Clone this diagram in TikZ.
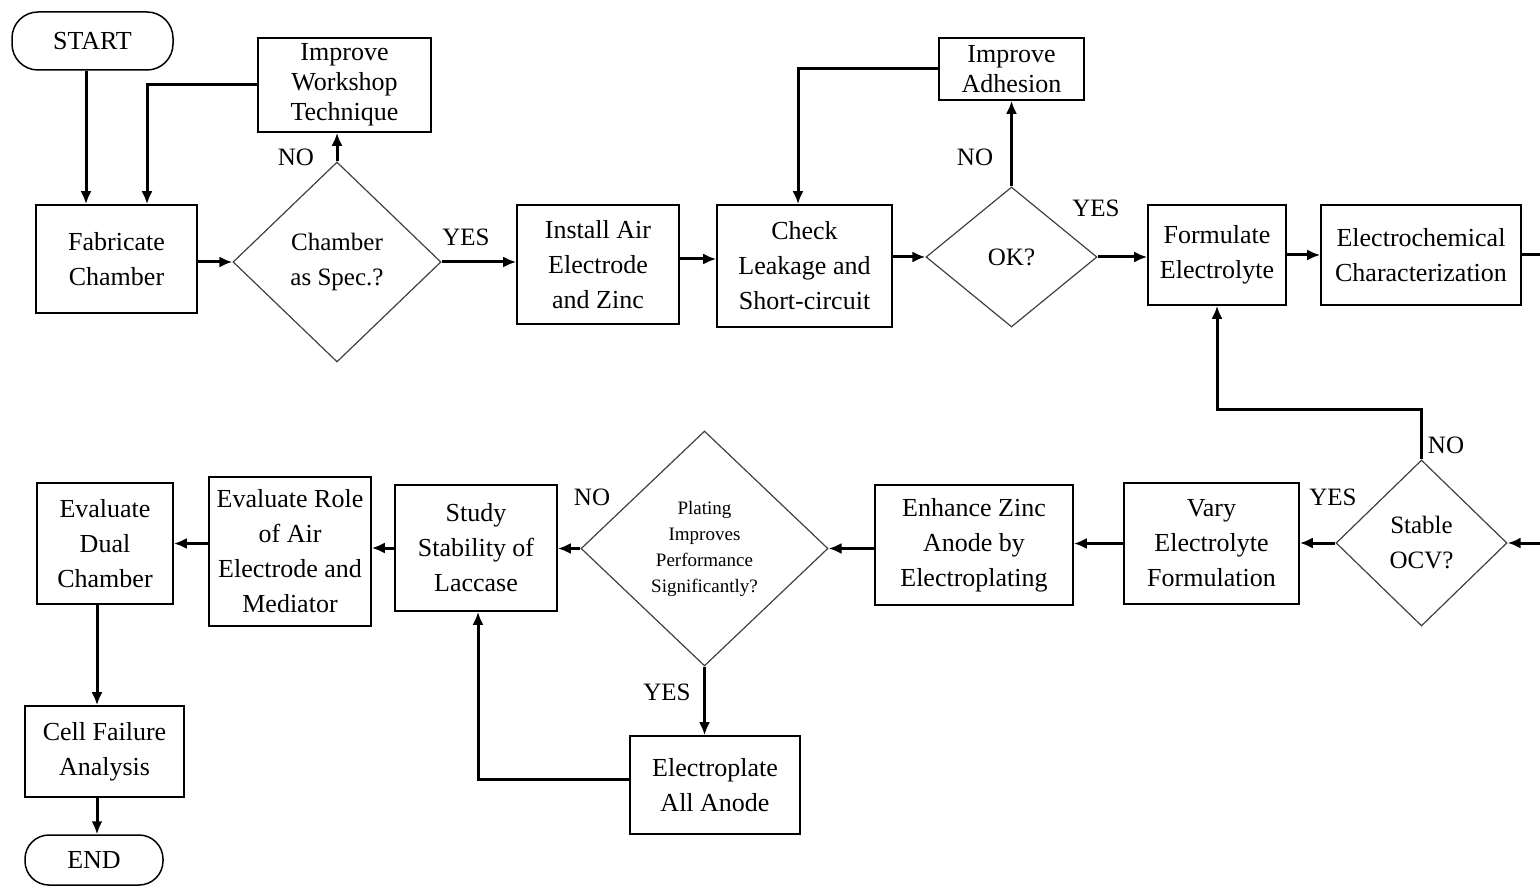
\documentclass[tikz,border=0pt]{standalone}
\usepackage{fontspec}
\setmainfont{Liberation Serif}
\usetikzlibrary{arrows.meta,shapes.geometric}
\tikzset{
  box/.style={draw, line width=0.8pt, inner sep=0pt, align=center, font=\fontsize{13}{17.5}\selectfont},
  term/.style={draw, line width=0.75pt, rounded corners=13pt, inner sep=0pt, align=center, font=\fontsize{13}{17.5}\selectfont},
  dia/.style={draw=black!75, line width=0.6pt, diamond, inner sep=0pt, align=center, font=\fontsize{12.5}{17.5}\selectfont},
  arr/.style={line width=1.5pt, -{Latex[length=6.5pt,width=5.5pt]}},
  plain/.style={line width=1.5pt},
  lbl/.style={font=\fontsize{12.5}{15}\selectfont, inner sep=0pt}
}
\begin{document}
\begin{tikzpicture}[x=0.5pt,y=-0.5pt]
\useasboundingbox (0,0) rectangle (1540,887);
% nodes
\node[term, minimum width=80.5pt, minimum height=29pt] (start) at (92.5,41) {START};
\node[box, minimum width=80.5pt, minimum height=54pt] (fab) at (116.5,259) {Fabricate\\Chamber};
\node[dia, minimum width=104pt, minimum height=100pt] (spec) at (337,262) {Chamber\\as Spec.?};
\node[box, minimum width=86.5pt, minimum height=47pt, font=\fontsize{13}{15}\selectfont] (iwt) at (344.5,85) {Improve\\Workshop\\Technique};
\node[box, minimum width=81pt, minimum height=59.5pt] (inst) at (598,264.5) {Install Air\\Electrode\\and Zinc};
\node[box, minimum width=87.5pt, minimum height=61pt] (chk) at (804.5,266) {Check\\Leakage and\\Short-circuit};
\node[dia, minimum width=85.5pt, minimum height=70pt] (ok) at (1011.5,257) {OK?};
\node[box, minimum width=72.5pt, minimum height=31pt, font=\fontsize{13}{15}\selectfont] (ia) at (1011.5,69) {Improve\\Adhesion};
\node[box, minimum width=69pt, minimum height=50pt] (form) at (1217,255) {Formulate\\Electrolyte};
\node[box, minimum width=100pt, minimum height=50pt] (elec) at (1421,255) {Electrochemical\\Characterization};
\node[dia, minimum width=85.5pt, minimum height=83pt] (ocv) at (1421.5,543) {Stable\\OCV?};
\node[box, minimum width=87.5pt, minimum height=60.5pt] (vary) at (1211.5,543.5) {Vary\\Electrolyte\\Formulation};
\node[box, minimum width=99pt, minimum height=60pt] (enh) at (974,545) {Enhance Zinc\\Anode by\\Electroplating};
\node[dia, minimum width=123.5pt, minimum height=117.5pt, font=\fontsize{9.5}{13}\selectfont] (plat) at (704.5,548.5) {Plating\\Improves\\Performance\\Significantly?};
\node[box, minimum width=81pt, minimum height=63pt] (study) at (476,548) {Study\\Stability of\\Laccase};
\node[box, minimum width=81pt, minimum height=74.5pt] (role) at (290,551.5) {Evaluate Role\\of Air\\Electrode and\\Mediator};
\node[box, minimum width=68pt, minimum height=60.5pt] (dual) at (105,543.5) {Evaluate\\Dual\\Chamber};
\node[box, minimum width=79.5pt, minimum height=45.5pt] (cfa) at (104.5,751.5) {Cell Failure\\Analysis};
\node[box, minimum width=85pt, minimum height=49pt] (ep) at (715,785) {Electroplate\\All Anode};
\node[term, minimum width=69pt, minimum height=25pt, rounded corners=12pt] (end) at (94,860) {END};
\coordinate (r1) at (1540,255);
\coordinate (r2) at (1540,543);
% connectors
\draw[arr] ([xshift=-3.25pt]start.south) -- ([xshift=-3.25pt]start.south |- fab.north);
\draw[arr] (iwt.west) -| ([xshift=15.25pt]fab.north);
\draw[arr] (fab.east |- spec.west) -- (spec.west);
\draw[arr] (spec.north) -- (spec.north |- iwt.south);
\draw[arr] (spec.east) -- (spec.east -| inst.west);
\draw[arr] ([yshift=2.75pt]inst.east) -- ([yshift=2.75pt]inst.east -| chk.west);
\draw[arr] (chk.east |- ok.west) -- (ok.west);
\draw[arr] (ok.north) -- (ok.north |- ia.south);
\draw[arr] (ia.west) -| ([xshift=-3.25pt]chk.north);
\draw[arr] (ok.east) -- (ok.east -| form.west);
\draw[arr] (form.east) -- (elec.west);
\draw[plain] (elec.east) -- (r1);
\draw[arr] (r2) -- (ocv.east);
\draw[arr] (ocv.north) -- ++(0,-50) -| (form.south);
\draw[arr] (ocv.west) -- (ocv.west -| vary.east);
\draw[arr] (vary.west) -- (vary.west -| enh.east);
\draw[arr] (enh.west |- plat.east) -- (plat.east);
\draw[arr] (plat.west) -- (plat.west -| study.east);
\draw[arr] (plat.south) -- (plat.south |- ep.north);
\draw[arr] ([yshift=3pt]ep.west) -| ([xshift=1pt]study.south);
\draw[arr] (study.west) -- (study.west -| role.east);
\draw[arr] (role.west |- dual.east) -- (dual.east);
\draw[arr] ([xshift=-4pt]dual.south) -- ([xshift=-4pt]dual.south |- cfa.north);
\draw[arr] ([xshift=-3.75pt]cfa.south) -- ([xshift=-3.75pt]cfa.south |- end.north);
% labels
\node[lbl] (l1) at (296,157) {NO};
\node[lbl] (l2) at (466,237) {YES};
\node[lbl] (l3) at (975,157) {NO};
\node[lbl] (l4) at (1096,208) {YES};
\node[lbl] (l5) at (1446,445) {NO};
\node[lbl] (l6) at (1333,497) {YES};
\node[lbl] (l7) at (592,497) {NO};
\node[lbl] (l8) at (667,692) {YES};
\end{tikzpicture}
\end{document}
